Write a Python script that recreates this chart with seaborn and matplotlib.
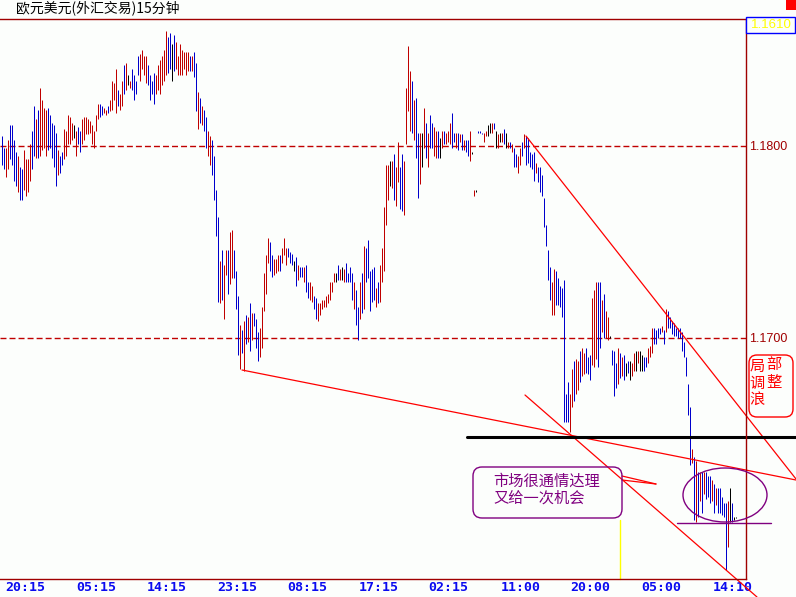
import numpy as np
import pandas as pd
import matplotlib
matplotlib.use("Agg")
import matplotlib.pyplot as plt
import matplotlib.transforms as mtransforms
from matplotlib.patches import Ellipse, FancyBboxPatch, Rectangle
import seaborn as sns

# ---------------- data (prices in pips, 1 pip = 0.0001) ----------------
high_pips = [
    11805, 11799, 11799, 11803, 11811, 11811, 11803, 11797, 11795, 11789,
    11788, 11798, 11793, 11793, 11801, 11808, 11821, 11814, 11819, 11830,
    11824, 11820, 11819, 11820, 11816, 11812, 11811, 11807, 11798, 11795,
    11797, 11809, 11808, 11816, 11815, 11812, 11811, 11808, 11810, 11808,
    11814, 11815, 11815, 11814, 11813, 11811, 11808, 11816, 11822, 11822,
    11821, 11820, 11819, 11821, 11824, 11834, 11833, 11840, 11829, 11827,
    11834, 11842, 11843, 11837, 11834, 11840, 11837, 11834, 11847, 11848,
    11850, 11847, 11847, 11842, 11837, 11834, 11838, 11837, 11842, 11845,
    11847, 11850, 11860, 11857, 11859, 11853, 11858, 11854, 11847, 11853,
    11850, 11849, 11849, 11849, 11847, 11847, 11849, 11843, 11828, 11825,
    11821, 11819, 11815, 11808, 11805, 11803, 11795, 11777, 11763, 11740,
    11746, 11738, 11746, 11746, 11755, 11756, 11746, 11735, 11722, 11707,
    11704, 11709, 11712, 11711, 11718, 11713, 11713, 11710, 11703, 11705,
    11716, 11734, 11743, 11752, 11750, 11743, 11741, 11741, 11743, 11743,
    11747, 11752, 11747, 11747, 11745, 11744, 11740, 11742, 11738, 11737,
    11737, 11737, 11738, 11729, 11729, 11727, 11722, 11721, 11718, 11718,
    11720, 11720, 11722, 11723, 11729, 11729, 11734, 11734, 11738, 11736,
    11737, 11736, 11739, 11734, 11737, 11734, 11729, 11725, 11716, 11729,
    11734, 11748, 11747, 11751, 11735, 11736, 11737, 11726, 11729, 11738,
    11747, 11768, 11790, 11790, 11792, 11792, 11796, 11789, 11802, 11789,
    11796, 11792, 11830, 11852, 11839, 11834, 11824, 11825, 11807, 11807,
    11807, 11820, 11812, 11807, 11816, 11812, 11810, 11808, 11808, 11804,
    11808, 11808, 11807, 11808, 11812, 11817, 11807, 11807, 11807, 11806,
    11806, 11803, 11803, 11803, 11808, 11797, 11777, 11777, 11808, 11808,
    11807, 11807, 11808, 11811, 11812, 11812, 11812, 11808, 11806, 11807,
    11807, 11809, 11807, 11802, 11802, 11801, 11799, 11796, 11795, 11799,
    11802, 11806, 11805, 11804, 11797, 11796, 11797, 11791, 11789, 11789,
    11785, 11773, 11759, 11746, 11737, 11729, 11736, 11735, 11731, 11727,
    11726, 11730, 11671, 11677, 11671, 11684, 11688, 11689, 11688, 11693,
    11695, 11692, 11695, 11690, 11691, 11721, 11725, 11729, 11729, 11729,
    11720, 11723, 11714, 11711, 11701, 11694, 11693, 11687, 11695, 11692,
    11690, 11691, 11687, 11688, 11688, 11687, 11692, 11693, 11693, 11693,
    11691, 11690, 11690, 11695, 11696, 11705, 11705, 11704, 11705, 11705,
    11706, 11704, 11715, 11714, 11711, 11709, 11708, 11705, 11705, 11705,
    11703, 11698, 11690, 11676, 11664, 11642, 11638, 11636, 11630, 11630,
    11630, 11630, 11630, 11628, 11628, 11626, 11624, 11622, 11622, 11622,
    11617, 11614, 11614, 11615, 11622, 11614, 11607, 11607,
]
low_pips = [
    11790, 11788, 11784, 11788, 11793, 11790, 11782, 11779, 11776, 11772,
    11772, 11777, 11774, 11776, 11782, 11788, 11795, 11794, 11794, 11795,
    11798, 11799, 11795, 11798, 11799, 11794, 11789, 11779, 11785, 11786,
    11790, 11793, 11795, 11801, 11801, 11803, 11804, 11795, 11801, 11797,
    11801, 11803, 11806, 11806, 11807, 11801, 11799, 11808, 11814, 11815,
    11816, 11817, 11816, 11817, 11818, 11819, 11824, 11817, 11821, 11819,
    11821, 11827, 11829, 11832, 11830, 11829, 11824, 11827, 11837, 11834,
    11840, 11837, 11833, 11832, 11824, 11827, 11822, 11827, 11829, 11827,
    11832, 11834, 11837, 11838, 11840, 11834, 11839, 11840, 11837, 11837,
    11837, 11840, 11837, 11839, 11839, 11839, 11836, 11818, 11809, 11812,
    11811, 11808, 11799, 11795, 11790, 11785, 11772, 11753, 11719, 11718,
    11720, 11710, 11733, 11723, 11728, 11731, 11731, 11715, 11691, 11684,
    11692, 11683, 11697, 11698, 11693, 11699, 11706, 11695, 11688, 11690,
    11695, 11714, 11723, 11739, 11735, 11732, 11733, 11734, 11735, 11735,
    11739, 11743, 11738, 11742, 11739, 11738, 11735, 11727, 11730, 11732,
    11732, 11729, 11724, 11721, 11720, 11719, 11715, 11710, 11709, 11712,
    11715, 11716, 11716, 11718, 11720, 11724, 11729, 11729, 11730, 11730,
    11730, 11729, 11729, 11729, 11729, 11720, 11715, 11707, 11699, 11710,
    11713, 11715, 11729, 11731, 11714, 11719, 11720, 11716, 11718, 11719,
    11729, 11735, 11759, 11772, 11779, 11778, 11772, 11769, 11781, 11767,
    11766, 11764, 11801, 11818, 11808, 11807, 11803, 11794, 11773, 11780,
    11789, 11799, 11794, 11789, 11799, 11799, 11795, 11794, 11794, 11794,
    11799, 11801, 11801, 11802, 11801, 11799, 11802, 11799, 11798, 11802,
    11798, 11798, 11797, 11795, 11792, 11796, 11774, 11776, 11807, 11807,
    11806, 11802, 11805, 11805, 11807, 11807, 11809, 11799, 11799, 11802,
    11802, 11801, 11799, 11799, 11799, 11797, 11789, 11789, 11786, 11790,
    11795, 11799, 11790, 11791, 11789, 11788, 11782, 11786, 11781, 11776,
    11774, 11758, 11748, 11730, 11720, 11712, 11712, 11717, 11717, 11716,
    11711, 11656, 11656, 11656, 11651, 11664, 11667, 11671, 11673, 11677,
    11680, 11681, 11682, 11681, 11678, 11686, 11685, 11689, 11685, 11695,
    11703, 11700, 11700, 11699, 11700, 11686, 11670, 11674, 11676, 11679,
    11680, 11678, 11680, 11682, 11678, 11680, 11683, 11683, 11687, 11683,
    11683, 11683, 11685, 11687, 11690, 11692, 11697, 11697, 11700, 11702,
    11703, 11697, 11703, 11705, 11705, 11702, 11701, 11701, 11700, 11700,
    11693, 11690, 11680, 11660, 11634, 11635, 11605, 11604, 11607, 11615,
    11609, 11619, 11616, 11617, 11614, 11615, 11609, 11613, 11609, 11609,
    11608, 11607, 11579, 11591, 11604, 11604, 11605, 11606,
]
# R = up bar, B = down bar, K = unchanged
bar_dirs = (
    "BBRRBBBBRB" "BRRRRBBRBR" "RRRBBBBBRB" "BRRRRRKRBB" "RRRRRRRRRB"
    "BRRBRRRRBR" "RBRKRBBBBR" "RRRBBBBRRR" "RRRBBKBRRR" "RRRRBRBBRB"
    "RBBRRBBBBR" "BRRBRRBBBR" "BRBRBRBBBR" "RRRRBBRRRB" "RRRBBBKBRB"
    "BRBBRRBBRR" "RRRRRRRKBR" "KRBBBBRBBR" "BRBBBBBRBR" "RRRRKRBRRB"
    "BRRRRBRBBR" "KRBRBBRRBK" "RBRRRBBRBR" "BRBBRKRKBB" "BRRKKRBKRK"
    "RBKRBRBBRR" "BRBBBBBRBB" "BBBBBRRBBB" "BBBBRRBRRB" "RRBBBRRRBB"
    "RBRRKBBBRB" "RBKBKRRKRK" "KBBRRRBBBB" "RBRBBBBBBB" "BBBBBRBRBR"
    "BRBBBRBRBB" "BBBRKBKK"
)
tick_labels = ["20:15", "05:15", "14:15", "23:15", "08:15", "17:15",
               "02:15", "11:00", "20:00", "05:00", "14:10"]
price_levels = [1.1800, 1.1700]
last_price = "1.1610"
title_text = "欧元美元(外汇交易)15分钟"
note_text = "市场很通情达理\n又给一次机会"
wave_chars = ["局", "部", "调", "整", "浪"]

# ---------------- layout / style ----------------
W, H = 796, 597
BG = "#FCFEFC"
DARKRED = "#A00000"
BAR_RED = "#C00000"
BAR_BLUE = "#0000CC"
RED = "#FF0000"
PURPLE = "#800080"

sns.set_style("white")
plt.rcParams["font.family"] = ["Noto Sans CJK SC", "DejaVu Sans"]

fig = plt.figure(figsize=(W / 100, H / 100), dpi=100, facecolor=BG)
ax = fig.add_axes([0, (H - 579) / H, 746 / W, 560 / H], facecolor=BG)

# reference-pixel helpers for annotation geometry (bar i sits at pixel column 1+2i)
def X(px):
    return (px - 1.5) / 2.0

def Y(py):
    return 1.18 - (py - 146) / 19200.0

pix = mtransforms.Affine2D().scale(1, -1).translate(0, H)

high = np.array(high_pips) / 10000.0
low = np.array(low_pips) / 10000.0
n = len(high)
df = pd.DataFrame({
    "bar": np.repeat(np.arange(n), 2),
    "price": np.column_stack([low, high]).ravel(),
    "dir": np.repeat(list(bar_dirs), 2),
})
sns.lineplot(data=df, x="bar", y="price", units="bar", estimator=None,
             hue="dir", palette={"R": BAR_RED, "B": BAR_BLUE, "K": "#000000"},
             legend=False, linewidth=0.72, sort=False,
             solid_capstyle="butt", ax=ax)

ax.set_xlim(X(0), X(746))
ax.set_ylim(Y(579), Y(19))

for p in price_levels:
    ax.axhline(p, color=BAR_RED, lw=1.0, ls=(0, (4.3, 2.2)), zorder=0)

# spines
ax.spines["left"].set_visible(False)
for s in ["top", "right", "bottom"]:
    ax.spines[s].set_visible(True)
    ax.spines[s].set_color(DARKRED)
    ax.spines[s].set_linewidth(1.0)

# ticks
tick_pos = [12, 47.5, 82.5, 118, 153, 188.5, 223.5, 259.5, 294.5, 330, 365.5]
ax.set_xticks(tick_pos)
ax.set_xticklabels(tick_labels, family="DejaVu Sans Mono", weight="bold",
                   fontsize=9.5, color="#0A0AF0")
ax.tick_params(axis="x", length=0, pad=1.5)
ax.yaxis.tick_right()
ax.set_yticks(price_levels)
ax.set_yticklabels([f"{p:.4f}" for p in price_levels], family="Liberation Sans",
                   fontsize=9, color=DARKRED)
ax.tick_params(axis="y", length=0, pad=2.5)
ax.set_xlabel("")
ax.set_ylabel("")

# trend lines (data coordinates)
def seg(p0, p1, **kw):
    ax.plot([X(p0[0]), X(p1[0])], [Y(p0[1]), Y(p1[1])], clip_on=False, **kw)

seg((242, 370), (796, 480), color=RED, lw=0.9)
seg((526, 136), (796, 479), color=RED, lw=0.9)
seg((525, 395), (757, 597), color=RED, lw=0.9)
seg((622, 476), (656, 484), color=RED, lw=0.9)
seg((622, 480), (656, 484), color=RED, lw=0.9)
seg((467, 437), (796, 437), color="#000000", lw=2.2)
seg((677, 523), (771, 523), color=PURPLE, lw=1.0)
seg((620, 520), (620, 579), color="#FFFF00", lw=1.0)

# purple ellipse
fig.add_artist(Ellipse((725, 495), 84, 54, transform=pix, fill=False,
                       edgecolor=PURPLE, lw=1.0))
# purple note box
fig.add_artist(FancyBboxPatch((473, 467), 149, 51,
                              boxstyle="round,pad=0,rounding_size=9",
                              transform=pix, fill=False, edgecolor=PURPLE, lw=1.0))
fig.text(493, 490, note_text, transform=pix, color=PURPLE, fontsize=11,
         ha="left", va="center", linespacing=1.0)

# red wave box
fig.add_artist(FancyBboxPatch((749, 355), 44, 62,
                              boxstyle="round,pad=0,rounding_size=8",
                              transform=pix, fill=False, edgecolor=RED, lw=1.0))
for ch, (cx, cy) in zip(wave_chars, [(757, 367), (774, 365), (757, 383), (774, 382), (757, 399)]):
    fig.text(cx, cy, ch, transform=pix, color=RED, fontsize=11,
             ha="center", va="center")

# title
fig.text(16, 8, title_text, transform=pix, color="#000000", fontsize=10,
         ha="left", va="center")

# last price box and corner marker
fig.add_artist(Rectangle((746, 17), 49, 16, transform=pix, fill=True,
                         facecolor=BG, edgecolor="#0000FF", lw=1.0))
fig.text(751, 25.5, last_price, transform=pix, color="#FFFF00", fontsize=9.5,
         family="Liberation Sans", ha="left", va="center")
fig.add_artist(Rectangle((786, 0), 10, 10, transform=pix, facecolor=RED,
                         edgecolor="none"))

fig.savefig("out.png", dpi=100, facecolor=BG)
